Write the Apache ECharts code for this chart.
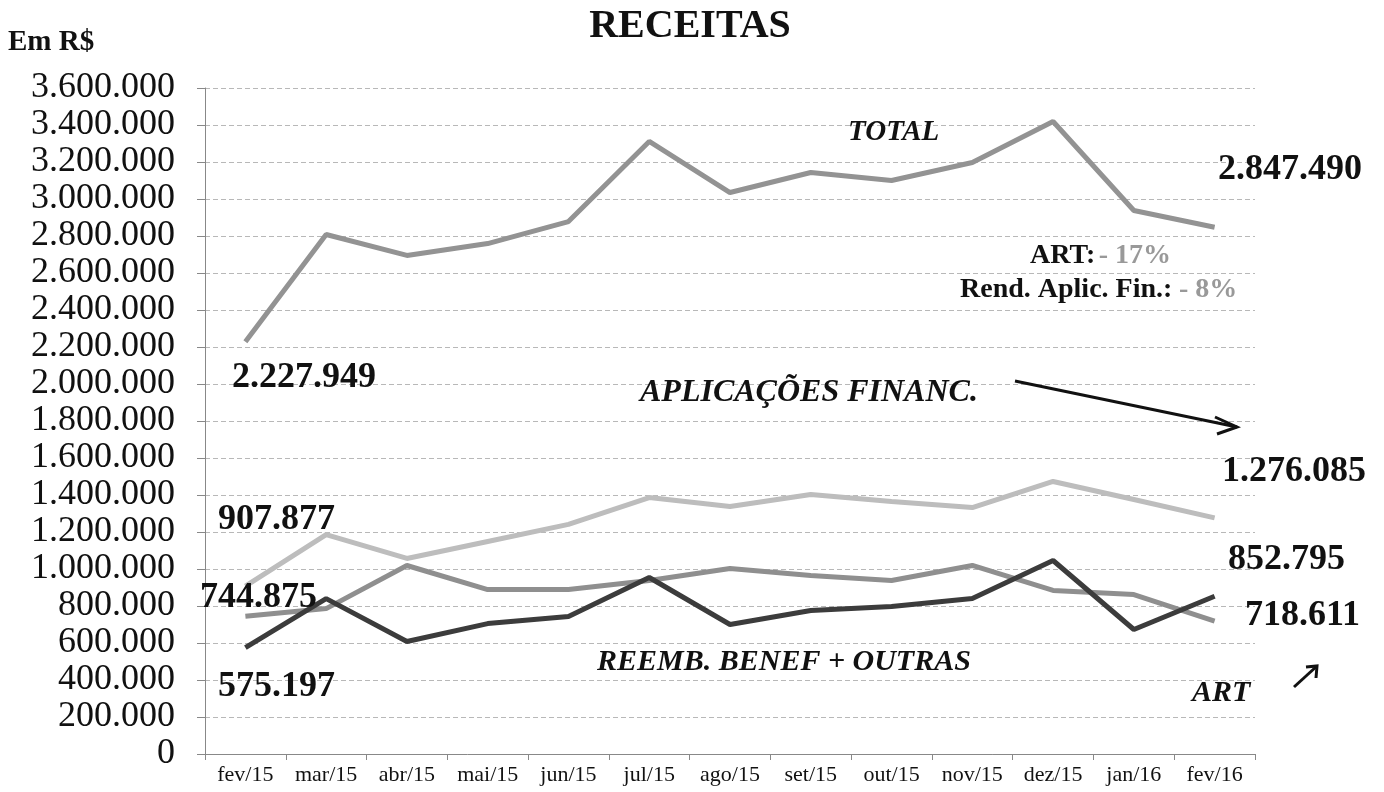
<!DOCTYPE html>
<html>
<head>
<meta charset="utf-8">
<script src="https://cdn.jsdelivr.net/npm/echarts@6/dist/echarts.min.js"></script>
<style>
html,body{margin:0;padding:0;background:#fff;}
#chart{width:1384px;height:792px;}
</style>
</head>
<body>
<div id="chart"></div>
<script>
var categories = ['fev/15','mar/15','abr/15','mai/15','jun/15','jul/15','ago/15','set/15','out/15','nov/15','dez/15','jan/16','fev/16'];
var total      = [2227949, 2808000, 2695000, 2759000, 2878000, 3311000, 3035000, 3143000, 3100000, 3197000, 3419000, 2938000, 2847490];
var aplicacoes = [907877, 1186000, 1057000, 1149000, 1241000, 1386000, 1338000, 1403000, 1365000, 1332000, 1473000, 1376000, 1276085];
var art        = [744875, 786000, 1019000, 889000, 889000, 938000, 1003000, 965000, 938000, 1019000, 884000, 862000, 718611];
var reemb      = [575197, 840000, 608000, 705000, 743000, 954000, 700000, 776000, 797000, 841000, 1046000, 673000, 852795];
var yTicks = {min: 0, max: 3600000, interval: 200000};

function fmt(v){ return String(Math.round(v)).replace(/\B(?=(\d{3})+(?!\d))/g, '.'); }

var SERIF = '"Liberation Serif", "DejaVu Serif", serif';
var chart = echarts.init(document.getElementById('chart'));

function txt(x, y, text, size, opts){
  opts = opts || {};
  return {type:'text', x:x, y:y, z:100, style:{text:text, font:(opts.italic?'italic ':'') + 'bold ' + size + 'px ' + SERIF,
    fill: opts.color || '#111', textAlign: opts.align || 'left', textVerticalAlign:'middle'}};
}
var last = categories.length - 1;

var option = {
  backgroundColor:'#fff',
  animation:false,
  grid:{left:205, right:129, top:88, bottom:38, containLabel:false},
  xAxis:{type:'category', data:categories, boundaryGap:true,
    axisLine:{lineStyle:{color:'#888', width:1}},
    axisTick:{show:true, interval:0, length:6, lineStyle:{color:'#888'}},
    axisLabel:{color:'#111', fontFamily:SERIF, fontSize:22, margin:10, interval:0},
    splitLine:{show:false}},
  yAxis:{type:'value', min:yTicks.min, max:yTicks.max, interval:yTicks.interval,
    axisLine:{show:true, lineStyle:{color:'#888', width:1}},
    axisTick:{show:true, length:8, lineStyle:{color:'#888'}},
    axisLabel:{color:'#111', fontFamily:SERIF, fontSize:36, margin:30, formatter:function(v){return fmt(v);}},
    splitLine:{show:true, lineStyle:{color:'#b8b8b8', type:[5,3], width:1}}},
  series:[
    {name:'TOTAL', type:'line', data:total, symbol:'none', lineStyle:{color:'#939393', width:5}, z:3},
    {name:'APLICAÇÕES FINANC.', type:'line', data:aplicacoes, symbol:'none', lineStyle:{color:'#bdbdbd', width:5}, z:3},
    {name:'ART', type:'line', data:art, symbol:'none', lineStyle:{color:'#8f8f8f', width:5}, z:4},
    {name:'REEMB. BENEF + OUTRAS', type:'line', data:reemb, symbol:'none', lineStyle:{color:'#3c3c3c', width:5}, z:5}
  ],
  graphic:[
    txt(690, 27, 'RECEITAS', 40, {align:'center'}),
    txt(8, 43, 'Em R$', 29),
    txt(848, 133, 'TOTAL', 29, {italic:true}),
    txt(1218, 170, fmt(total[last]), 36),
    {type:'text', x:1030, y:256, z:100, style:{rich:{a:{font:'bold 28px '+SERIF, fill:'#111'}, b:{font:'bold 28px '+SERIF, fill:'#999'}},
      text:'{a|ART:} {b|- 17%}', textVerticalAlign:'middle'}},
    {type:'text', x:960, y:290, z:100, style:{rich:{a:{font:'bold 28px '+SERIF, fill:'#111'}, b:{font:'bold 28px '+SERIF, fill:'#999'}},
      text:'{a|Rend. Aplic. Fin.:}  {b|- 8%}', textVerticalAlign:'middle'}},
    txt(232, 378, fmt(total[0]), 36),
    txt(640, 393, 'APLICAÇÕES FINANC.', 32, {italic:true}),
    txt(1222, 472, fmt(aplicacoes[last]), 36),
    txt(218, 520, fmt(aplicacoes[0]), 36),
    txt(1228, 560, fmt(reemb[last]), 36),
    txt(200, 598, fmt(art[0]), 36),
    txt(1245, 616, fmt(art[last]), 36),
    txt(597, 662, 'REEMB. BENEF + OUTRAS', 30, {italic:true}),
    txt(218, 687, fmt(reemb[0]), 36),
    txt(1192, 693, 'ART', 30, {italic:true}),
    {type:'polyline', z:100, shape:{points:[[1015,381],[1237,427]]}, style:{stroke:'#111', lineWidth:3, fill:null}},
    {type:'polyline', z:100, shape:{points:[[1215,417],[1237,427],[1217,434]]}, style:{stroke:'#111', lineWidth:3, fill:null}},
    {type:'polyline', z:100, shape:{points:[[1294,687],[1317,666]]}, style:{stroke:'#111', lineWidth:3, fill:null}},
    {type:'polyline', z:100, shape:{points:[[1306,667],[1317,666],[1316,678]]}, style:{stroke:'#111', lineWidth:3, fill:null}}
  ]
};
chart.setOption(option);
</script>
</body>
</html>
